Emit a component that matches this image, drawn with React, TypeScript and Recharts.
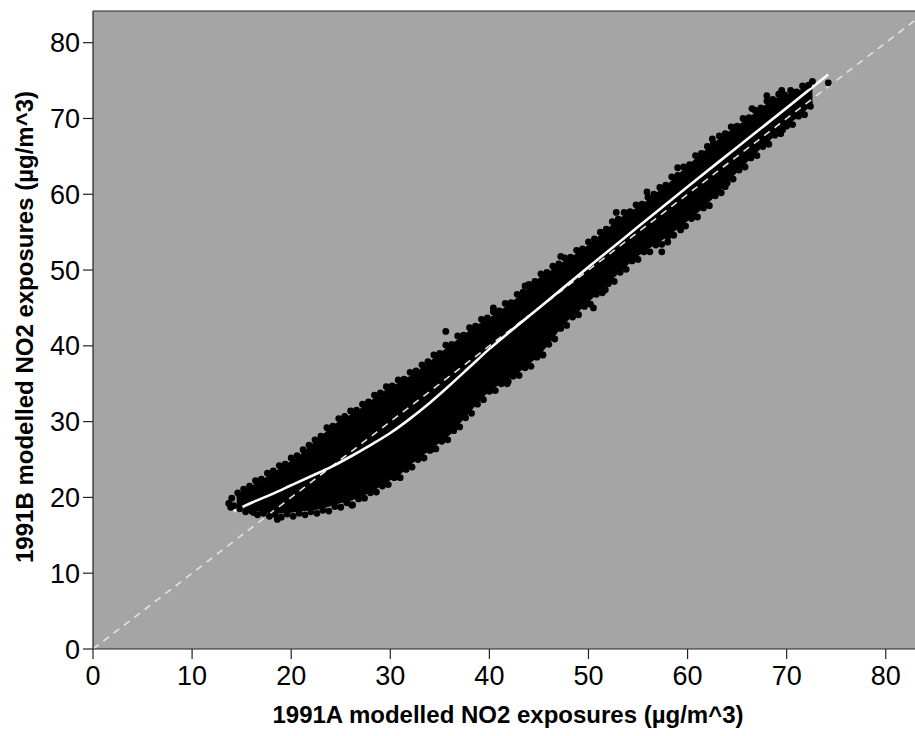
import React from "react";
import {
  ComposedChart,
  XAxis,
  YAxis,
  Area,
  Line,
  Scatter,
  CartesianGrid,
  ReferenceLine,
} from "recharts";

// ---- axis setup ----
const xTicks = [0, 10, 20, 30, 40, 50, 60, 70, 80];
const yTicks = [0, 10, 20, 30, 40, 50, 60, 70, 80];
const xMax = 82.95;
const yMax = 84.18;
const xTitle = "1991A modelled NO2 exposures (µg/m^3)";
const yTitle = "1991B modelled NO2 exposures (µg/m^3)";

// ---- dense core of the scatter cloud (x, lower, upper) ----
const bandX = [14.5, 15, 16, 17, 18, 19, 20, 21, 22, 23, 24, 25, 26, 27, 28, 29, 30, 31, 32, 33, 34, 35, 36, 37, 38, 39, 40, 41, 42, 43, 44, 45, 46, 47, 48, 49, 50, 51, 52, 53, 54, 55, 56, 57, 58, 59, 60, 61, 62, 63, 64, 65, 66, 67, 68, 69, 70, 71, 72, 72.6];
const bandLow = [18.9, 18.7, 18.4, 18.2, 18.0, 18.0, 18.1, 18.3, 18.4, 18.6, 19.0, 19.4, 19.7, 20.2, 20.8, 21.6, 22.4, 23.2, 24.4, 25.4, 26.4, 27.4, 28.4, 29.9, 31.4, 32.9, 34.2, 35.0, 35.8, 36.7, 37.7, 38.9, 40.4, 42.2, 43.6, 44.7, 45.9, 47.2, 48.4, 49.7, 50.9, 52.0, 52.9, 53.7, 54.6, 55.6, 56.6, 57.7, 58.9, 60.2, 61.7, 63.1, 64.4, 65.7, 66.9, 68.2, 69.2, 70.2, 71.3, 72.2];
const bandHigh = [20.0, 20.6, 21.4, 22.1, 23.0, 23.8, 24.7, 25.6, 26.8, 27.9, 29.1, 30.1, 30.8, 31.6, 32.6, 33.6, 34.4, 35.1, 35.9, 36.8, 37.8, 38.9, 39.9, 40.9, 41.9, 42.8, 43.6, 44.4, 45.4, 46.4, 47.6, 48.8, 49.6, 50.6, 51.4, 52.2, 53.2, 54.3, 55.4, 56.6, 57.4, 58.2, 59.1, 60.2, 61.2, 62.4, 63.6, 64.8, 65.9, 67.0, 68.0, 68.9, 69.8, 70.8, 71.8, 72.6, 73.1, 73.4, 74.1, 74.3];

// ---- individual points along the edges of the cloud ----
const upperX = [13.7, 14.0, 14.6, 15.2, 15.8, 16.4, 17.0, 17.6, 18.2, 18.8, 19.4, 20.0, 20.6, 21.2, 21.8, 22.4, 23.0, 23.6, 24.2, 24.8, 25.4, 26.0, 26.6, 27.2, 27.8, 28.4, 29.0, 29.6, 30.2, 30.8, 31.4, 32.0, 32.6, 33.2, 33.8, 34.4, 35.0, 35.6, 36.2, 36.8, 37.4, 38.0, 38.6, 39.2, 39.8, 40.4, 41.0, 41.6, 42.2, 42.8, 43.4, 44.0, 44.6, 45.2, 45.8, 46.4, 47.0, 47.6, 48.2, 48.8, 49.4, 50.0, 50.6, 51.2, 51.8, 52.4, 53.0, 53.6, 54.2, 54.8, 55.4, 56.0, 56.6, 57.2, 57.8, 58.4, 59.0, 59.6, 60.2, 60.8, 61.4, 62.0, 62.6, 63.2, 63.8, 64.4, 65.0, 65.6, 66.2, 66.8, 67.4, 68.0, 68.6, 69.2, 69.8, 70.4, 71.0, 71.6, 72.2, 72.6];
const upperY = [19.2, 19.9, 20.6, 21.1, 21.5, 22.2, 22.4, 23.2, 23.5, 24.2, 24.4, 25.2, 25.5, 26.3, 26.9, 27.6, 28.1, 29.2, 29.4, 30.4, 30.7, 31.4, 31.5, 32.3, 32.6, 33.5, 33.8, 34.6, 34.7, 35.5, 35.6, 36.5, 36.7, 37.5, 37.9, 38.8, 39.0, 40.1, 40.2, 41.3, 41.4, 42.4, 42.6, 43.5, 43.7, 44.5, 44.6, 45.6, 45.7, 46.8, 47.1, 48.1, 48.5, 49.5, 49.7, 50.5, 50.8, 51.6, 51.7, 52.6, 52.8, 53.7, 54.1, 55.0, 55.4, 56.4, 56.7, 57.6, 57.7, 58.6, 58.7, 59.6, 60.0, 60.9, 61.2, 62.3, 62.5, 63.6, 63.9, 65.1, 65.4, 66.3, 66.7, 67.7, 68.0, 68.9, 69.0, 70.0, 70.1, 71.1, 71.4, 72.3, 72.5, 73.2, 73.1, 73.7, 73.5, 74.3, 74.4, 74.9];

const lowerX = [13.9, 14.2, 14.8, 15.4, 16.0, 16.6, 17.2, 17.8, 18.4, 19.0, 19.6, 20.2, 20.8, 21.4, 22.0, 22.6, 23.2, 23.8, 24.4, 25.0, 25.6, 26.2, 26.8, 27.4, 28.0, 28.6, 29.2, 29.8, 30.4, 31.0, 31.6, 32.2, 32.8, 33.4, 34.0, 34.6, 35.2, 35.8, 36.4, 37.0, 37.6, 38.2, 38.8, 39.4, 40.0, 40.6, 41.2, 41.8, 42.4, 43.0, 43.6, 44.2, 44.8, 45.4, 46.0, 46.6, 47.2, 47.8, 48.4, 49.0, 49.6, 50.2, 50.8, 51.4, 52.0, 52.6, 53.2, 53.8, 54.4, 55.0, 55.6, 56.2, 56.8, 57.4, 58.0, 58.6, 59.2, 59.8, 60.4, 61.0, 61.6, 62.2, 62.8, 63.4, 64.0, 64.6, 65.2, 65.8, 66.4, 67.0, 67.6, 68.2, 68.8, 69.4, 70.0, 70.6, 71.2, 71.8, 72.4];
const lowerY = [18.7, 18.9, 18.5, 18.1, 18.2, 17.7, 17.9, 17.5, 17.7, 17.4, 17.8, 17.5, 17.9, 17.7, 18.1, 17.9, 18.3, 18.2, 18.8, 18.7, 19.3, 19.0, 19.8, 19.9, 20.6, 20.7, 21.5, 21.7, 22.6, 22.6, 23.7, 24.0, 25.0, 25.2, 26.2, 26.4, 27.4, 27.6, 28.8, 29.3, 30.5, 31.1, 32.3, 32.9, 34.0, 34.1, 35.0, 35.0, 36.0, 36.1, 37.1, 37.3, 38.5, 38.8, 40.2, 40.9, 42.3, 42.7, 43.8, 44.1, 45.2, 45.5, 46.8, 47.0, 48.2, 48.5, 49.7, 50.1, 51.2, 51.4, 52.4, 52.4, 53.3, 53.4, 54.4, 54.6, 55.6, 55.8, 56.8, 57.0, 58.2, 58.5, 59.8, 60.2, 61.5, 62.0, 63.2, 63.6, 64.8, 65.1, 66.3, 66.6, 67.8, 68.0, 69.0, 69.2, 70.3, 70.5, 71.6];

const outlierX = [35.6, 40.4, 43.6, 47.2, 52.8, 55.9, 59.0, 62.5, 66.5, 68.0, 69.5, 39.1, 40.3, 41.9, 45.4, 50.5, 51.7, 57.4, 58.0, 59.3, 63.8, 65.6, 68.0, 69.6, 74.2, 18.6, 16.2, 26.1, 34.3, 36.4];
const outlierY = [41.9, 45.0, 47.9, 51.8, 57.6, 60.3, 63.5, 67.3, 71.3, 73.0, 73.7, 33.5, 34.2, 35.3, 38.8, 45.0, 47.4, 52.4, 53.7, 55.3, 61.0, 64.5, 67.2, 68.5, 74.7, 17.1, 18.0, 19.0, 26.4, 29.0];

// ---- loess smooth (white line) ----
const fitX = [14.2, 16, 18, 20, 22, 24, 26, 28, 30, 32, 34, 36, 38, 40, 42, 45, 50, 55, 60, 65, 70, 74.2];
const fitY = [18.2, 19.3, 20.4, 21.6, 22.8, 24.0, 25.4, 26.9, 28.5, 30.4, 32.5, 34.8, 37.2, 39.6, 41.8, 45.0, 50.4, 55.7, 61.0, 66.2, 71.4, 75.8];

// ---- 1:1 reference line ----
const diagX = [0, 82.95];
const diagY = [0, 82.95];

const bandData = bandX.map((x, i) => ({ x, range: [bandLow[i], bandHigh[i]] }));
const points = [
  ...upperX.map((x, i) => ({ x, y: upperY[i] })),
  ...lowerX.map((x, i) => ({ x, y: lowerY[i] })),
  ...outlierX.map((x, i) => ({ x, y: outlierY[i] })),
];
const fitData = fitX.map((x, i) => ({ x, y: fitY[i] }));
const diagData = diagX.map((x, i) => ({ x, y: diagY[i] }));

const FONT = "'Liberation Sans', Arial, Helvetica, sans-serif";

const Dot = (props: any) => {
  const { cx, cy } = props;
  if (cx == null || cy == null) return null;
  return <circle cx={cx} cy={cy} r={3.4} fill="#000" />;
};

const XTitle = (props: any) => {
  const vb = props.viewBox || {};
  const cx = vb.x + vb.width / 2 + 4;
  return (
    <text x={cx} y={715} textAnchor="middle" fontFamily={FONT} fontWeight="bold" fontSize={24} fill="#000">
      {xTitle}
    </text>
  );
};

const YTitle = (props: any) => {
  const vb = props.viewBox || {};
  const cy = vb.y + vb.height / 2 - 3;
  const x = 25;
  return (
    <text
      x={x}
      y={cy}
      transform={`rotate(-90, ${x}, ${cy})`}
      textAnchor="middle"
      fontFamily={FONT}
      fontWeight="bold"
      fontSize={24}
      fill="#000"
    >
      {yTitle}
    </text>
  );
};

export default function App() {
  return (
    <div style={{ position: "absolute", left: 8, top: 8, width: 907, height: 720, overflow: "hidden" }}>
      <ComposedChart
        width={907}
        height={720}
        data={bandData}
        margin={{ top: 3, right: 0, bottom: 0, left: 0 }}
        style={{ fontFamily: FONT, display: "block" }}
      >
        <CartesianGrid fill="#a5a5a5" horizontal={false} vertical={false} stroke="none" />
        <XAxis
          dataKey="x"
          type="number"
          domain={[0, xMax]}
          allowDataOverflow
          ticks={xTicks}
          interval={0}
          height={79}
          tickSize={10}
          tickMargin={7}
          axisLine={{ stroke: "#222", strokeWidth: 1.2 }}
          tickLine={{ stroke: "#222", strokeWidth: 1.2 }}
          tick={{ fontSize: 27, fill: "#000", fontFamily: FONT }}
          label={<XTitle />}
        />
        <YAxis
          type="number"
          domain={[0, yMax]}
          allowDataOverflow
          ticks={yTicks}
          interval={0}
          width={85}
          tickSize={10}
          tickMargin={3}
          axisLine={{ stroke: "#222", strokeWidth: 1.2 }}
          tickLine={{ stroke: "#222", strokeWidth: 1.2 }}
          tick={{ fontSize: 27, fill: "#000", fontFamily: FONT }}
          label={<YTitle />}
        />
        <ReferenceLine y={yMax} stroke="#222" strokeWidth={1.2} ifOverflow="extendDomain" />
        <Area
          dataKey="range"
          type="linear"
          fill="#000"
          fillOpacity={1}
          stroke="#000"
          strokeWidth={2}
          isAnimationActive={false}
          dot={false}
          activeDot={false}
        />
        <Scatter data={points} dataKey="y" shape={<Dot />} isAnimationActive={false} />
        <Line
          data={diagData}
          dataKey="y"
          type="linear"
          stroke="#e2e2e2"
          strokeWidth={1.6}
          strokeDasharray="7 6"
          dot={false}
          activeDot={false}
          isAnimationActive={false}
        />
        <Line
          data={fitData}
          dataKey="y"
          type="monotone"
          stroke="#ffffff"
          strokeWidth={2.6}
          dot={false}
          activeDot={false}
          isAnimationActive={false}
        />
      </ComposedChart>
    </div>
  );
}
